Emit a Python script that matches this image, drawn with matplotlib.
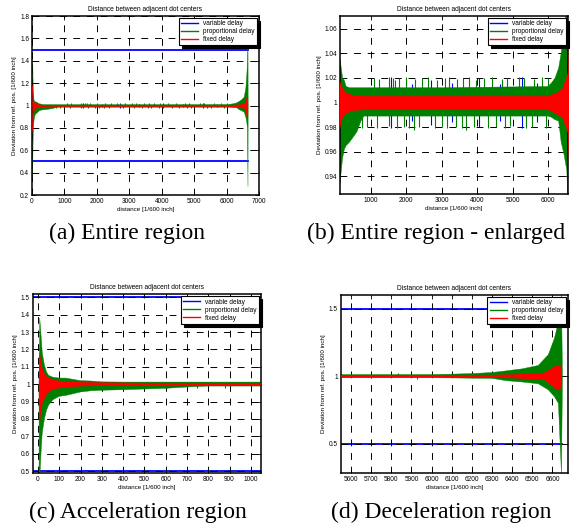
import matplotlib
matplotlib.use('Agg')
import matplotlib.pyplot as plt
from matplotlib.lines import Line2D

plt.rcParams['font.family'] = ['Liberation Sans', 'DejaVu Sans']

# 比例遅延 (green) の包絡線
prop_x  = [5, 8, 12, 16, 20, 30, 40, 50, 70, 100, 130, 200, 250, 300, 400, 500, 600, 720, 800,
           1000, 3000, 6000, 6100, 6200, 6300, 6370, 6450, 6530, 6580, 6610, 6630, 6645, 6650]
prop_hi = [1.0, 1.38, 1.32, 1.25, 1.18, 1.11, 1.07, 1.05, 1.04, 1.035, 1.035, 1.02, 1.018, 1.013, 1.012, 1.012, 1.012, 1.012, 1.012,
           1.012, 1.012, 1.013, 1.016, 1.02, 1.028, 1.04, 1.055, 1.08, 1.16, 1.28, 1.40, 1.60, 1.0]
prop_lo = [0.35, 0.45, 0.55, 0.65, 0.72, 0.80, 0.85, 0.88, 0.91, 0.93, 0.935, 0.955, 0.962, 0.965, 0.968, 0.972, 0.976, 0.985, 0.989,
           0.989, 0.989, 0.989, 0.988, 0.986, 0.985, 0.968, 0.958, 0.945, 0.90, 0.85, 0.80, 0.28, 1.0]

# 固定遅延 (red) の包絡線
fixed_x  = [5, 8, 12, 16, 20, 30, 40, 50, 70, 100, 150, 200, 300, 500, 800,
            3000, 6000, 6300, 6400, 6500, 6560, 6600, 6620, 6640, 6645]
fixed_hi = [1.0, 1.18, 1.14, 1.11, 1.09, 1.06, 1.045, 1.035, 1.025, 1.018, 1.014, 1.011, 1.008, 1.006, 1.0055,
            1.0055, 1.0055, 1.009, 1.012, 1.02, 1.025, 1.06, 1.08, 1.08, 1.0]
fixed_lo = [0.9, 0.78, 0.83, 0.86, 0.89, 0.92, 0.94, 0.955, 0.97, 0.978, 0.985, 0.989, 0.992, 0.994, 0.9945,
            0.9945, 0.9945, 0.99, 0.988, 0.98, 0.975, 0.93, 0.90, 0.90, 1.0]

# 比例遅延のスパイク
prop_up_x = [1093, 1215, 1497, 1628, 1685, 1797, 2004, 2248, 2435, 2624, 2877, 3093, 3206, 3440, 3600, 3769,
             3957, 4191, 4426, 4708, 4849, 5177, 5318, 5600, 5835, 6004]
prop_up_y = [1.020, 1.019, 1.021, 1.020, 1.018, 1.020, 1.021, 1.019, 1.020, 1.021, 1.018, 1.020, 1.021, 1.019, 1.020, 1.021,
             1.018, 1.020, 1.021, 1.019, 1.020, 1.021, 1.020, 1.019, 1.021, 1.020]
prop_dn_x = [746, 877, 1159, 1516, 1722, 1939, 2079, 2220, 2361, 2802, 2999, 3159, 3393, 3562, 3675, 3910,
             4313, 4539, 4783, 4914, 5384, 5534, 5928]
prop_dn_y = [0.979, 0.980, 0.979, 0.981, 0.979, 0.980, 0.979, 0.978, 0.980, 0.979, 0.981, 0.979, 0.980, 0.979, 0.978, 0.980,
             0.979, 0.980, 0.979, 0.981, 0.979, 0.980, 0.979]

# 可変遅延のスパイクと上下限の線
var_spike_x  = [1560, 2150, 2700, 3300, 4050, 4650, 5260, 5700]
var_spike_hi = [1.021, 1.015, 1.018, 1.016, 1.02, 1.015, 1.021, 1.016]
var_spike_lo = [0.979, 0.985, 0.982, 0.984, 0.98, 0.985, 0.979, 0.984]
limit_x  = [-100, 6650]
limit_hi = [1.5, 1.5]
limit_lo = [0.5, 0.5]
base = 1.0

# 各パネルの目盛り
a_xticks = [0, 1000, 2000, 3000, 4000, 5000, 6000, 7000]
a_yticks = [0.2, 0.4, 0.6, 0.8, 1.0, 1.2, 1.4, 1.6, 1.8]
a_ylabels = ['0.2', '0.4', '0.6', '0.8', '1', '1.2', '1.4', '1.6', '1.8']
b_xticks = [1000, 2000, 3000, 4000, 5000, 6000]
b_yticks = [0.94, 0.96, 0.98, 1.0, 1.02, 1.04, 1.06]
b_ylabels = ['0.94', '0.96', '0.98', '1', '1.02', '1.04', '1.06']
c_xticks = [0, 100, 200, 300, 400, 500, 600, 700, 800, 900, 1000]
c_yticks = [0.5, 0.6, 0.7, 0.8, 0.9, 1.0, 1.1, 1.2, 1.3, 1.4, 1.5]
c_ylabels = ['0.5', '0.6', '0.7', '0.8', '0.9', '1', '1.1', '1.2', '1.3', '1.4', '1.5']
d_xticks = [5600, 5700, 5800, 5900, 6000, 6100, 6200, 6300, 6400, 6500, 6600]
d_yticks = [0.5, 1.0, 1.5]
d_ylabels = ['0.5', '1', '1.5']

captions = ['(a) Entire region', '(b) Entire region - enlarged', '(c) Acceleration region', '(d) Deceleration region']

BLUE, GREEN, RED = (0, 0, 1), (0, 0.5, 0), (1, 0, 0)
W, H = 578, 528
fig = plt.figure(figsize=(W / 100, H / 100), dpi=100)


def box(l, t, r, b):
    return [l / W, 1 - b / H, (r - l) / W, (b - t) / H]


def panel(ax, xlim, ylim, xticks, yticks, ylabels):
    ax.set_axisbelow('line')
    ax.plot(limit_x, limit_hi, color=BLUE, lw=1.3, zorder=1)
    ax.plot(limit_x, limit_lo, color=BLUE, lw=1.3, zorder=1)
    ax.vlines(var_spike_x, var_spike_lo, var_spike_hi, color=BLUE, lw=0.8, zorder=2)
    ax.fill_between(prop_x, prop_lo, prop_hi, color=GREEN, lw=0.3, zorder=2)
    ax.vlines(prop_up_x, base, prop_up_y, color=GREEN, lw=0.8, zorder=2)
    ax.vlines(prop_dn_x, prop_dn_y, base, color=GREEN, lw=0.8, zorder=2)
    ax.fill_between(fixed_x, fixed_lo, fixed_hi, color=RED, lw=0.3, zorder=3)

    ax.set_xlim(xlim)
    ax.set_ylim(ylim)
    ax.set_xticks(xticks)
    ax.set_xticklabels([str(t) for t in xticks])
    ax.set_yticks(yticks)
    ax.set_yticklabels(ylabels)
    ax.grid(True, color='black', lw=0.7, linestyle=(0, (7, 7)))
    ax.tick_params(direction='in', top=True, right=True, length=3, width=0.6,
                   labelsize=4.7, pad=2)
    for s in ax.spines.values():
        s.set_linewidth(1.1)
    ax.set_title('Distance between adjacent dot centers', fontsize=4.8, pad=3.5)
    ax.set_xlabel('distance [1/600 inch]', fontsize=4.5, labelpad=1.5)
    ax.set_ylabel('Deviation from ref. pos. [1/600 inch]', fontsize=4.5, labelpad=2)

    handles = [Line2D([], [], color=BLUE, lw=1.0),
               Line2D([], [], color=GREEN, lw=1.0),
               Line2D([], [], color=RED, lw=1.0)]
    leg = ax.legend(handles, ['variable delay', 'proportional delay', 'fixed delay'],
                    loc='upper right', fontsize=4.7, handlelength=2.6, labelspacing=0.15,
                    borderpad=0.35, handletextpad=0.8, borderaxespad=0.3,
                    fancybox=False, framealpha=1, edgecolor='black',
                    shadow={'color': 'black', 'alpha': 1})
    leg.get_frame().set_linewidth(0.8)


ax_a = fig.add_axes(box(32, 16, 259, 195))
panel(ax_a, (0, 7000), (0.2, 1.8), a_xticks, a_yticks, a_ylabels)
ax_b = fig.add_axes(box(340, 16, 568, 194))
panel(ax_b, (127, 6563), (0.9258, 1.0702), b_xticks, b_yticks, b_ylabels)
ax_c = fig.add_axes(box(32.7, 294.3, 261, 473.3))
panel(ax_c, (-25, 1048), (0.487, 1.517), c_xticks, c_yticks, c_ylabels)
ax_d = fig.add_axes(box(340.7, 295, 567.7, 473.3))
panel(ax_d, (5549, 6676), (0.283, 1.601), d_xticks, d_yticks, d_ylabels)

# キャプション
cap_pos = [(127, 239), (436, 239), (138, 518), (441, 518)]
for (cx, cy), text in zip(cap_pos, captions):
    fig.text(cx / W, 1 - cy / H, text, ha='center', va='baseline',
             family='Liberation Serif', fontsize=17)

fig.savefig('out.png', dpi=100)
